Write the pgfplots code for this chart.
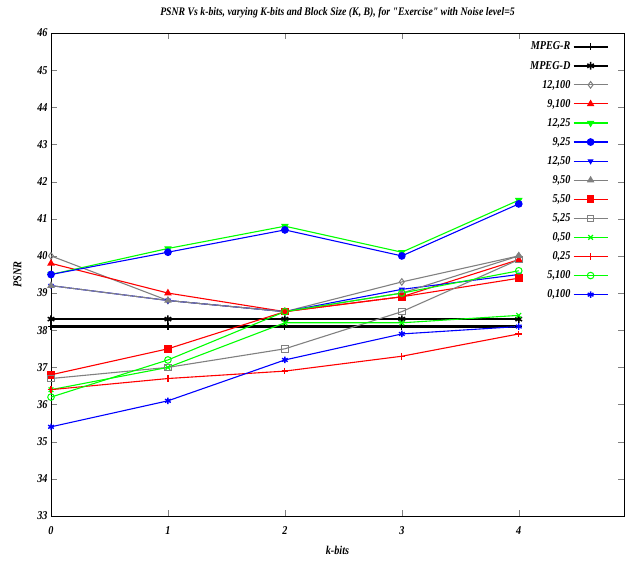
\documentclass[border=0pt]{standalone}
\usepackage{fontspec}
\setmainfont{Liberation Serif}[FakeStretch=0.85]
\newfontfamily\plainserif{Liberation Serif}[FakeStretch=0.85]
\usepackage{pgfplots}
\pgfplotsset{compat=1.18}
\newcommand{\dq}{{\plainserif\bfseries\itshape"}}
\begin{document}
\begin{tikzpicture}
\begin{axis}[
  scale only axis,
  width=573pt, height=483pt,
  xmin=0, xmax=4.9, ymin=33, ymax=46,
  xtick={0,1,2,3,4}, ytick={33,34,...,46},
  tick align=inside,
  major tick length=6pt,
  /pgf/number format/assume math mode=true,
  tick label style={font=\bfseries\itshape\fontsize{12}{14}\selectfont},
  xticklabel style={yshift=-7pt},
  label style={font=\bfseries\itshape\fontsize{12}{14}\selectfont},
  xlabel style={yshift=-5pt},
  ylabel style={yshift=9pt},
  title style={font=\bfseries\itshape\fontsize{11.5}{13}\selectfont, yshift=5pt},
  title={PSNR Vs k-bits, varying K-bits and Block Size (K, B), for \dq Exercise\dq{} with Noise level=5},
  xlabel={k-bits}, ylabel={PSNR},
  axis line style={line width=0.9pt},
  legend style={draw=none, fill=none, at={(0.979,0.99)}, anchor=north east,
    font=\bfseries\itshape\fontsize{12}{14}\selectfont, row sep=5.6pt},
  legend cell align=right,
  legend plot pos=right,
  every axis plot/.append style={line width=1.1pt, mark size=3.3pt},
  legend image code/.code={\draw[mark repeat=2,mark phase=2] plot coordinates {(0cm,0cm)(0.6cm,0cm)(1.2cm,0cm)};},
]
\addplot[black, line width=2.2pt, mark=+, mark options={line width=1.2pt}] coordinates {(0,38.1)(1,38.1)(2,38.1)(3,38.1)(4,38.1)};
\addlegendentry{MPEG-R}
\addplot[black, line width=2.2pt, mark=asterisk, mark size=3.8pt, mark options={line width=1.5pt}] coordinates {(0,38.3)(1,38.3)(2,38.3)(3,38.3)(4,38.3)};
\addlegendentry{MPEG-D}
\addplot[gray, mark=diamond, mark options={line width=1pt}] coordinates {(0,40.0)(1,38.8)(2,38.5)(3,39.3)(4,40.0)};
\addlegendentry{12,100}
\addplot[red, mark=triangle*] coordinates {(0,39.8)(1,39.0)(2,38.5)(3,38.9)(4,39.9)};
\addlegendentry{9,100}
\addplot[green, mark=triangle*, mark options={rotate=180}] coordinates {(0,39.5)(1,40.2)(2,40.8)(3,40.1)(4,41.5)};
\addlegendentry{12,25}
\addplot[blue, mark=*] coordinates {(0,39.5)(1,40.1)(2,40.7)(3,40.0)(4,41.4)};
\addlegendentry{9,25}
\addplot[blue, mark=triangle*, mark options={rotate=180}, mark size=2.5pt] coordinates {(0,39.2)(1,38.8)(2,38.5)(3,39.1)(4,39.5)};
\addlegendentry{12,50}
\addplot[gray, mark=triangle*] coordinates {(0,39.2)(1,38.8)(2,38.5)(3,39.0)(4,40.0)};
\addlegendentry{9,50}
\addplot[red, mark=square*] coordinates {(0,36.8)(1,37.5)(2,38.5)(3,38.9)(4,39.4)};
\addlegendentry{5,50}
\addplot[gray, mark=square, mark options={line width=1pt}] coordinates {(0,36.7)(1,37.0)(2,37.5)(3,38.5)(4,39.9)};
\addlegendentry{5,25}
\addplot[green, mark=x, mark options={line width=1.2pt}] coordinates {(0,36.4)(1,37.0)(2,38.2)(3,38.2)(4,38.4)};
\addlegendentry{0,50}
\addplot[red, mark=+, mark options={line width=1.2pt}] coordinates {(0,36.4)(1,36.7)(2,36.9)(3,37.3)(4,37.9)};
\addlegendentry{0,25}
\addplot[green, mark=o, mark options={line width=1pt}] coordinates {(0,36.2)(1,37.2)(2,38.5)(3,39.0)(4,39.6)};
\addlegendentry{5,100}
\addplot[blue, mark=asterisk, mark options={line width=1.4pt}] coordinates {(0,35.4)(1,36.1)(2,37.2)(3,37.9)(4,38.1)};
\addlegendentry{0,100}
\end{axis}
\path ([xshift=-51pt,yshift=-45pt]current axis.south west) rectangle ([xshift=5pt,yshift=33pt]current axis.north east);
\end{tikzpicture}
\end{document}
